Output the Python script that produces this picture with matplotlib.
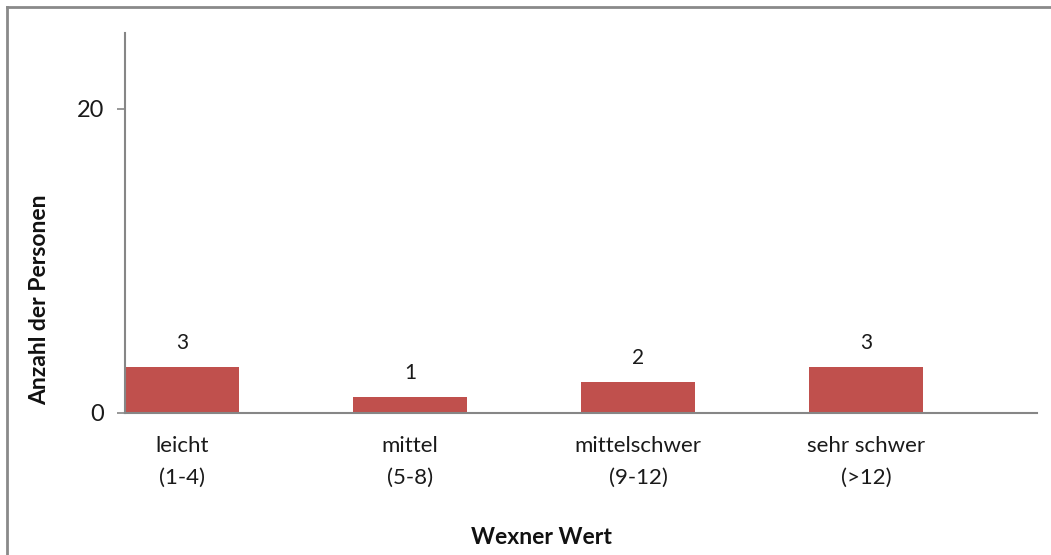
import matplotlib
matplotlib.use("Agg")
import matplotlib.pyplot as plt
from matplotlib.lines import Line2D

categories = ["leicht\n(1-4)", "mittel\n(5-8)", "mittelschwer\n(9-12)", "sehr schwer\n(>12)"]
counts = [3, 1, 2, 3]
y_ticks = [0, 20]

plt.rcParams["font.family"] = ["Lato", "DejaVu Sans"]

W, H = 1051, 555
fig = plt.figure(figsize=(W / 100, H / 100), dpi=100)
fig.patch.set_facecolor("white")

ax_l, ax_r, ax_t, ax_b = 125, 1037, 33, 412.5
ax = fig.add_axes([ax_l / W, (H - ax_b) / H, (ax_r - ax_l) / W, (ax_b - ax_t) / H])

axis_grey = "#868686"
bar_red = "#C0504D"
text_col = "#1a1a1a"

x = list(range(len(categories)))
ax.bar(x, counts, width=0.5, color=bar_red, zorder=2)

for xi, v in zip(x, counts):
    ax.annotate(str(v), (xi, v), xytext=(0, 10), textcoords="offset points",
                ha="center", va="bottom", fontsize=15, color=text_col)

ax.set_xlim(-0.25, 3.75)
ax.set_ylim(0, 25)
ax.set_yticks(y_ticks)
ax.set_xticks(x)
ax.set_xticklabels(categories, linespacing=1.75)

for s in ["top", "right"]:
    ax.spines[s].set_visible(False)
for s in ["left", "bottom"]:
    ax.spines[s].set_color(axis_grey)
    ax.spines[s].set_linewidth(1.5)

ax.tick_params(axis="y", direction="out", length=6, width=1.2, color=axis_grey,
               pad=9, labelsize=17, labelcolor=text_col)
ax.tick_params(axis="x", length=0, pad=17, labelsize=16, labelcolor=text_col)

fig.text(40 / W, 1 - 300 / H, "Anzahl der Personen", rotation=90, ha="center", va="center",
         fontsize=16.5, fontweight="bold", color="#111111")
fig.text(541 / W, 1 - 537 / H, "Wexner Wert", ha="center", va="center",
         fontsize=16.5, fontweight="bold", color="#111111")

# outer frame: top and left edges
frame = dict(color="#8a8a8a", linewidth=2.0, transform=fig.transFigure)
fig.add_artist(Line2D([7 / W, 1], [1 - 7 / H, 1 - 7 / H], **frame))
fig.add_artist(Line2D([7 / W, 7 / W], [0, 1 - 7 / H], **frame))

fig.savefig("out.png", dpi=100, facecolor="white")
